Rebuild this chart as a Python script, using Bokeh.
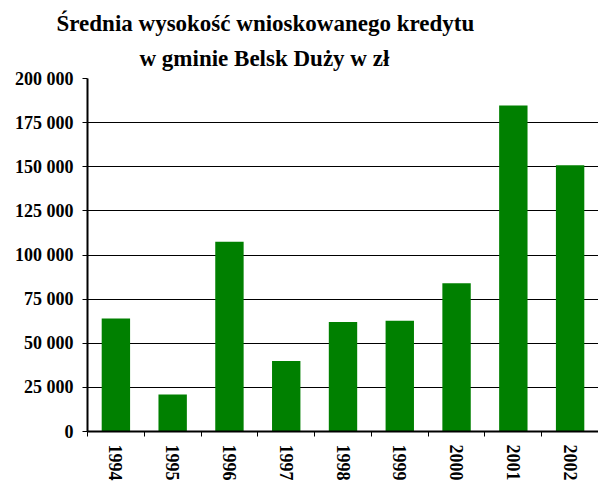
from bokeh.plotting import figure
from bokeh.models import Range1d, FixedTicker, Title, ColumnDataSource
from bokeh.embed import file_html
from bokeh.resources import INLINE

years = ["1994", "1995", "1996", "1997", "1998", "1999", "2000", "2001", "2002"]
values = [64000, 21000, 107500, 40000, 62000, 62700, 84000, 184700, 150800]
y_ticks = [0, 25000, 50000, 75000, 100000, 125000, 150000, 175000, 200000]
y_tick_labels = ["0", "25 000", "50 000", "75 000", "100 000", "125 000", "150 000", "175 000", "200 000"]
title_line1 = "Średnia wysokość wnioskowanego kredytu"
title_line2 = "w gminie Belsk Duży w zł"

FONT = "'Liberation Serif', 'Times New Roman', serif"

n = len(years)
centers = [i + 0.5 for i in range(n)]
edges = list(range(n + 1))
source = ColumnDataSource(data=dict(x=centers, top=values, year=years))

p = figure(x_range=Range1d(0, n), y_range=Range1d(0, 200000),
           width=598, height=483, output_backend="svg", toolbar_location=None,
           title=None,
           min_border_left=87, min_border_right=0, min_border_top=78, min_border_bottom=51)
p.outline_line_color = None

p.vbar(x="x", top="top", width=0.5, source=source, fill_color="#008000", line_color=None)

# y axis
yax = p.yaxis[0]
yax.ticker = FixedTicker(ticks=y_ticks)
yax.major_label_overrides = dict(zip(y_ticks, y_tick_labels))
yax.minor_tick_line_color = None
yax.major_tick_in = 0
yax.major_tick_out = 5
yax.major_label_standoff = 9
yax.axis_line_color = "black"
yax.axis_line_width = 2
yax.major_tick_line_color = "black"
yax.major_label_text_font = FONT
yax.major_label_text_font_style = "bold"
yax.major_label_text_font_size = "18px"
yax.major_label_text_color = "black"

p.ygrid.ticker = FixedTicker(ticks=y_ticks)
p.ygrid.grid_line_color = "black"
p.ygrid.grid_line_width = 1
p.xgrid.visible = False

# x axis: labels at category centres, tick marks at category boundaries
xax = p.xaxis[0]
xax.ticker = FixedTicker(ticks=centers, minor_ticks=edges)
xax.major_label_overrides = dict(zip(centers, years))
xax.major_tick_line_color = None
xax.major_tick_in = 0
xax.major_tick_out = 0
xax.minor_tick_in = 0
xax.minor_tick_out = 5
xax.minor_tick_line_color = "black"
xax.axis_line_color = "black"
xax.axis_line_width = 2
xax.major_label_orientation = "vertical"
xax.major_label_standoff = 8
xax.major_label_text_font = FONT
xax.major_label_text_font_style = "bold"
xax.major_label_text_font_size = "18px"
xax.major_label_text_color = "black"

t2 = Title(text=title_line2, align="left", offset=52, text_font=FONT,
           text_font_size="23px", text_font_style="bold", standoff=15, text_color="black")
t1 = Title(text=title_line1, align="left", offset=-31, text_font=FONT,
           text_font_size="23px", text_font_style="bold", standoff=1, text_color="black")
p.add_layout(t2, "above")
p.add_layout(t1, "above")

open("out.html", "w").write(file_html(p, INLINE))
